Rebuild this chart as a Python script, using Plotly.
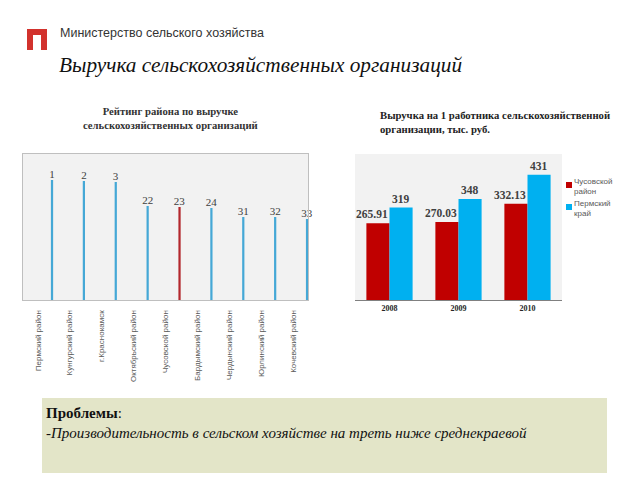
import plotly.graph_objects as go

# ---------------- data ----------------
districts = ["Пермский район", "Кунгурский район", "г.Краснокамск", "Октябрьский район",
             "Чусовской район", "Бардымский район", "Чердынский район", "Юрлинский район",
             "Кочевский район"]
district_ranks = [1, 2, 3, 22, 23, 24, 31, 32, 33]
district_revenue_index = [120, 119, 118, 94, 93, 92, 83, 83, 81]

years = ["2008", "2009", "2010"]
chusovoy_values = [265.91, 270.03, 332.13]
perm_values = [319, 348, 431]
series_names = ["Чусовской<br>район", "Пермский<br>край"]

# the page body has an 8px margin; the figure is sized to fit the 640x480 window
OFF = 8
W, H = 640 - OFF, 480 - OFF
def px(x): return (x - OFF) / W
def py(y): return 1 - (y - OFF) / H

BLUE_L = "#45a8d6"
RED_L = "#b3282d"
RED = "#c00000"
BLUE = "#00b0f0"
GRAY_TXT = "#404040"

fig = go.Figure()

left_colors = [RED_L if d == "Чусовской район" else BLUE_L for d in districts]
fig.add_trace(go.Bar(
    x=districts, y=district_revenue_index, xaxis="x", yaxis="y",
    marker=dict(color=left_colors, line=dict(width=0)),
    width=0.07, offset=0.405,
    text=[str(r) for r in district_ranks], textposition="outside",
    constraintext="none", cliponaxis=False,
    textfont=dict(family="Liberation Serif", size=11, color=GRAY_TXT),
    showlegend=False, hoverinfo="skip",
))

fig.add_trace(go.Bar(
    x=years, y=chusovoy_values, xaxis="x2", yaxis="y2", name=series_names[0],
    marker=dict(color=RED, line=dict(width=0)), showlegend=False,
))
fig.add_trace(go.Bar(
    x=years, y=perm_values, xaxis="x2", yaxis="y2", name=series_names[1],
    marker=dict(color=BLUE, line=dict(width=0)), showlegend=False,
))

fig.update_layout(
    width=W, height=H, margin=dict(l=0, r=0, t=0, b=0),
    paper_bgcolor="white", plot_bgcolor="white",
    barmode="group", bargap=0.33, bargroupgap=0.0,
    xaxis=dict(domain=[px(23), px(308)], range=[-0.47, 8.47], type="category",
               tickangle=-90, showgrid=False, zeroline=False,
               showline=True, linecolor="#bfbfbf", mirror=True, linewidth=1,
               ticks="", ticklabelstandoff=6,
               tickfont=dict(family="Liberation Sans", size=8, color="#595959")),
    yaxis=dict(domain=[py(300), py(154)], range=[0, 146], showgrid=False,
               zeroline=False, showticklabels=False, ticks="",
               showline=True, linecolor="#bfbfbf", mirror=True, linewidth=1),
    xaxis2=dict(domain=[px(355), px(562)], range=[-0.5, 2.5], type="category",
                showgrid=False, zeroline=False, showline=True, linecolor="#808080",
                linewidth=1, ticks="",
                tickfont=dict(family="Liberation Serif", size=8, color="#262626", weight="bold")),
    yaxis2=dict(domain=[py(301), py(154)], range=[0, 502], showgrid=False,
                zeroline=False, showticklabels=False, ticks="", showline=False),
)

shapes = []
# plot backgrounds
shapes.append(dict(type="rect", xref="paper", yref="paper", x0=px(23), x1=px(308),
                   y0=py(300), y1=py(154), fillcolor="#f2f2f2", line=dict(width=0), layer="below"))
shapes.append(dict(type="rect", xref="paper", yref="paper", x0=px(355), x1=px(562),
                   y0=py(301), y1=py(154), fillcolor="#f2f2f2", line=dict(width=0), layer="below"))
# logo "П"
for (x0, x1, y0, y1) in [(27, 47, 29, 35), (27, 33, 29, 50), (41, 47, 29, 50)]:
    shapes.append(dict(type="rect", xref="paper", yref="paper", x0=px(x0), x1=px(x1),
                       y0=py(y1), y1=py(y0), fillcolor="#d2322d", line=dict(width=0)))
# bottom box
shapes.append(dict(type="rect", xref="paper", yref="paper", x0=px(42), x1=px(607),
                   y0=py(473), y1=py(398), fillcolor="#e3e5c8", line=dict(width=0), layer="below"))
# custom legend squares
shapes.append(dict(type="rect", xref="paper", yref="paper", x0=px(566), x1=px(572),
                   y0=py(188), y1=py(182), fillcolor=RED, line=dict(width=0)))
shapes.append(dict(type="rect", xref="paper", yref="paper", x0=px(566), x1=px(572),
                   y0=py(210), y1=py(204), fillcolor=BLUE, line=dict(width=0)))
fig.update_layout(shapes=shapes)

ann = []
def A(x, y, text, size, family, color="#000", xanchor="left", yanchor="middle", align="left", **kw):
    ann.append(dict(xref="paper", yref="paper", x=px(x), y=py(y), text=text, showarrow=False,
                    xanchor=xanchor, yanchor=yanchor, align=align,
                    font=dict(size=size, family=family, color=color, **kw)))

A(58, 33, "Министерство сельского хозяйства", 12.5, "Liberation Sans", "#333333")
A(57, 65, "<i>Выручка сельскохозяйственных организаций</i>", 21.3, "Liberation Serif", "#111111")
A(170, 118, "<b>Рейтинг района по выручке<br>сельскохозяйственных организаций</b>", 10.7,
  "Liberation Serif", "#333333", xanchor="center", align="center")
A(378, 122, "<b>Выручка на 1 работника сельскохозяйственной<br>организации, тыс. руб.</b>", 10.7,
  "Liberation Serif", "#222222")
A(572, 186, series_names[0], 8, "Liberation Sans", "#595959")
A(572, 208, series_names[1], 8, "Liberation Sans", "#595959")
A(44, 423, "<b>Проблемы</b>:<br><i>-Производительность в сельском хозяйстве на треть ниже среднекраевой</i>",
  15, "Liberation Serif", "#111111")

# value labels on the right chart, positioned through the data axes (category index)
for i, v in enumerate(chusovoy_values):
    ann.append(dict(xref="x2", yref="y2", x=i, y=v, text=f"<b>{v:.2f}</b>", showarrow=False,
                    xanchor="center", yanchor="bottom", xshift=-18, yshift=1,
                    font=dict(family="Liberation Serif", size=11.5, color=GRAY_TXT)))
for i, v in enumerate(perm_values):
    ann.append(dict(xref="x2", yref="y2", x=i, y=v, text=f"<b>{v:g}</b>", showarrow=False,
                    xanchor="center", yanchor="bottom", xshift=11.5, yshift=1,
                    font=dict(family="Liberation Serif", size=11.5, color=GRAY_TXT)))
fig.update_layout(annotations=ann)

fig.write_html("out.html")
